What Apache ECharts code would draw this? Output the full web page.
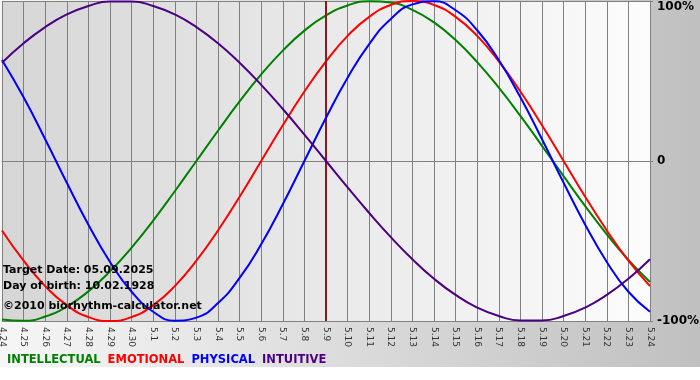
<!DOCTYPE html>
<html><head><meta charset="utf-8">
<script src="https://cdn.jsdelivr.net/npm/echarts@6/dist/echarts.min.js"></script>
<style>html,body{margin:0;padding:0;background:#fff}#c{width:700px;height:380px}</style>
</head><body><div id="c"></div>
<script>
const categories = ['4.24','4.25','4.26','4.27','4.28','4.29','4.30','5.1','5.2','5.3','5.4','5.5','5.6','5.7','5.8','5.9','5.10','5.11','5.12','5.13','5.14','5.15','5.16','5.17','5.18','5.19','5.20','5.21','5.22','5.23','5.24'];
const intellectual = [-0.990,-0.999,-0.972,-0.910,-0.815,-0.690,-0.541,-0.372,-0.189,0,0.189,0.372,0.541,0.690,0.815,0.910,0.972,0.999,0.990,0.945,0.866,0.756,0.618,0.458,0.282,0.095,-0.095,-0.282,-0.458,-0.618,-0.756];
const emotional = [-0.434,-0.623,-0.782,-0.901,-0.975,-1,-0.975,-0.901,-0.782,-0.623,-0.434,-0.223,0,0.223,0.434,0.623,0.782,0.901,0.975,1,0.975,0.901,0.782,0.623,0.434,0.223,0,-0.223,-0.434,-0.623,-0.782];
const physical = [0.631,0.398,0.136,-0.136,-0.398,-0.631,-0.817,-0.942,-0.998,-0.979,-0.888,-0.731,-0.520,-0.270,0,0.270,0.520,0.731,0.888,0.979,0.998,0.942,0.817,0.631,0.398,0.136,-0.136,-0.398,-0.631,-0.817,-0.942];
const intuitive = [0.614,0.736,0.837,0.916,0.969,0.997,0.997,0.969,0.916,0.837,0.736,0.614,0.476,0.325,0.165,0,-0.165,-0.325,-0.476,-0.614,-0.736,-0.837,-0.916,-0.969,-0.997,-0.997,-0.969,-0.916,-0.837,-0.736,-0.614];
const yTickValues = [-1, 0, 1];
const yTickLabels = ['-100%', '0', '100%'];
const targetCategory = '5.9';
const infoLines = ['Target Date: 05.09.2025', 'Day of birth: 10.02.1928', '\u00a92010 biorhythm-calculator.net'];
const seriesNames = ['INTELLECTUAL', 'EMOTIONAL', 'PHYSICAL', 'INTUITIVE'];
const seriesColors = ['#008000', '#ff0000', '#0000ff', '#4b0082'];
const seriesData = [intellectual, emotional, physical, intuitive];

const chart = echarts.init(document.getElementById('c'), null, {renderer: 'canvas'});
const FONT = '"DejaVu Sans", Verdana, sans-serif';

const series = seriesNames.map((n, k) => ({
  name: n, type: 'line', data: seriesData[k], smooth: 0.5, showSymbol: false,
  lineStyle: {color: seriesColors[k], width: 2}, itemStyle: {color: seriesColors[k]},
  z: 3 + k, animation: false
}));
series[0].markLine = {
  silent: true, symbol: 'none', label: {show: false}, animation: false,
  lineStyle: {color: '#8b1a1a', width: 2, type: 'solid'},
  data: [{xAxis: targetCategory}]
};

chart.setOption({
  animation: false,
  backgroundColor: '#ffffff',
  textStyle: {fontFamily: FONT},
  graphic: [
    {type: 'rect', z: -10, silent: true, shape: {x: 0, y: 0, width: 700, height: 367},
      style: {fill: new echarts.graphic.LinearGradient(0, 0, 1, 0, [{offset: 0, color: '#f6f6f6'}, {offset: 1, color: '#c0c0c0'}])}},
    {type: 'text', z: 100, left: 3, top: 265, style: {text: infoLines[0], font: 'bold 11px ' + FONT, fill: '#000'}},
    {type: 'text', z: 100, left: 3, top: 281, style: {text: infoLines[1], font: 'bold 11px ' + FONT, fill: '#000'}},
    {type: 'text', z: 100, left: 3, top: 301, style: {text: infoLines[2], font: 'bold 11px ' + FONT, fill: '#000'}}
  ],
  legend: {
    left: 2, top: 353, padding: 0, icon: 'none', itemWidth: 0, itemGap: 2, selectedMode: false,
    textStyle: {fontFamily: FONT, fontSize: 11.5, fontWeight: 'bold'},
    data: seriesNames.map((n, k) => ({name: n, textStyle: {color: seriesColors[k]}}))
  },
  grid: {
    left: 2, right: 50, top: 1, bottom: 59, show: true, borderWidth: 0,
    containLabel: false, outerBoundsMode: 'none',
    backgroundColor: new echarts.graphic.LinearGradient(0, 0, 1, 0, [{offset: 0, color: '#d6d6d6'}, {offset: 1, color: '#fcfcfc'}])
  },
  xAxis: {
    type: 'category', data: categories, boundaryGap: false,
    axisLine: {show: true, lineStyle: {color: '#808080', width: 1}},
    axisTick: {show: true, interval: 0, length: 4, lineStyle: {color: '#808080'}},
    splitLine: {show: true, interval: 0, lineStyle: {color: '#808080', width: 1}},
    axisLabel: {interval: 0, rotate: -90, fontSize: 9, color: '#333', margin: 6, fontFamily: FONT}
  },
  yAxis: {
    type: 'value', position: 'right', min: -1, max: 1, interval: 1,
    axisLine: {show: true, lineStyle: {color: '#808080'}},
    axisTick: {show: true, length: 3, lineStyle: {color: '#808080'}},
    splitLine: {show: true, lineStyle: {color: '#808080', width: 1}},
    axisLabel: {
      margin: 7, fontSize: 12, fontWeight: 'bold', color: '#000', fontFamily: FONT,
      formatter: v => {
        const i = yTickValues.indexOf(v);
        const s = i >= 0 ? yTickLabels[i] : '';
        return v === yTickValues[yTickValues.length - 1] ? '\n' + s : s;
      }
    }
  },
  series: series
});
</script></body></html>
